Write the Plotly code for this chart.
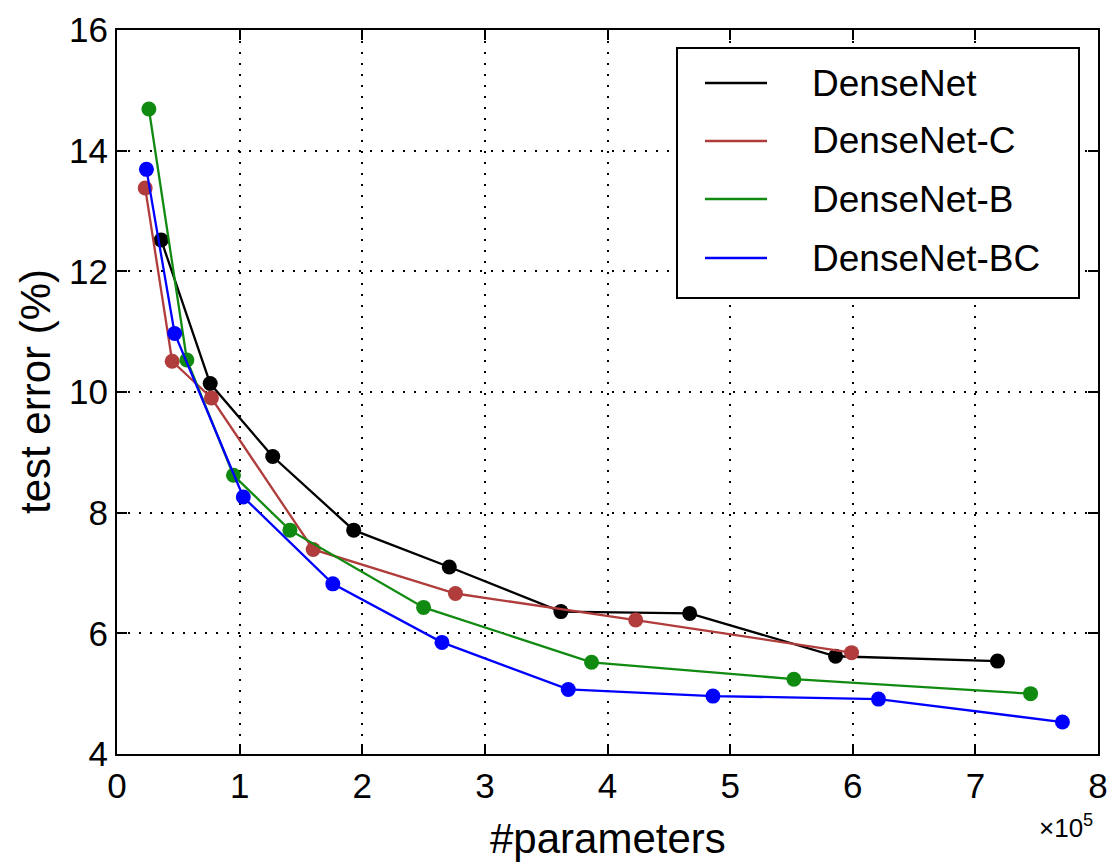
import plotly.graph_objects as go

# #parameters in units of 1e5, test error in %
names = ["DenseNet", "DenseNet-C", "DenseNet-B", "DenseNet-BC"]
colors = ["#000000", "#B03C3C", "#108A10", "#0000FF"]

dn_x = [0.36, 0.76, 1.27, 1.93, 2.71, 3.62, 4.67, 5.86, 7.18]
dn_y = [12.52, 10.14, 8.93, 7.71, 7.10, 6.36, 6.33, 5.62, 5.54]
c_x = [0.23, 0.45, 0.77, 1.60, 2.76, 4.23, 5.99]
c_y = [13.38, 10.51, 9.90, 7.39, 6.66, 6.22, 5.68]
b_x = [0.26, 0.57, 0.95, 1.41, 2.50, 3.87, 5.52, 7.45]
b_y = [14.69, 10.53, 8.62, 7.71, 6.43, 5.52, 5.24, 5.00]
bc_x = [0.24, 0.47, 1.03, 1.76, 2.65, 3.68, 4.86, 6.21, 7.71]
bc_y = [13.69, 10.97, 8.26, 6.82, 5.85, 5.07, 4.96, 4.91, 4.53]

x_ticks = [0, 1, 2, 3, 4, 5, 6, 7, 8]
y_ticks = [4, 6, 8, 10, 12, 14, 16]

series = [(dn_x, dn_y), (c_x, c_y), (b_x, b_y), (bc_x, bc_y)]

W, H = 1113, 862
ML, MR, MT, MB = 117, 15, 30, 108
PW, PH = W - ML - MR, H - MT - MB


def px(xpix):
    return (xpix - ML) / PW


def py(ypix):
    return (H - MB - ypix) / PH


fig = go.Figure()
for (xs, ys), name, col in zip(series, names, colors):
    fig.add_trace(go.Scatter(
        x=xs, y=ys, mode="lines+markers", name=name,
        line=dict(color=col, width=2.3),
        marker=dict(color=col, size=15, line=dict(width=0)), showlegend=False))

font_family = "Liberation Sans, Arial, sans-serif"

axis_common = dict(
    showline=True, linecolor="black", linewidth=2, mirror="ticks",
    ticks="inside", ticklen=10, tickwidth=2, tickcolor="black",
    showgrid=True, gridcolor="black", gridwidth=2, griddash="2px,9px",
    zeroline=False, automargin=False,
    tickfont=dict(family=font_family, size=35, color="black"),
)

fig.update_xaxes(range=[0, 8], tickvals=x_ticks, ticktext=[str(v) for v in x_ticks], **axis_common)
fig.update_yaxes(range=[4, 16], tickvals=y_ticks, ticktext=[str(v) for v in y_ticks], **axis_common)

fig.add_annotation(text="#parameters", xref="paper", yref="paper", x=0.5, y=py(838),
                   xanchor="center", yanchor="middle", showarrow=False,
                   font=dict(family=font_family, size=42, color="black"))
fig.add_annotation(text="test error (%)", xref="paper", yref="paper", x=px(35), y=0.5,
                   xanchor="center", yanchor="middle", textangle=-90, showarrow=False,
                   font=dict(family=font_family, size=42, color="black"))
fig.add_annotation(text="×10<sup>5</sup>", xref="paper", yref="paper", x=px(1066), y=py(826),
                   xanchor="center", yanchor="middle", showarrow=False,
                   font=dict(family=font_family, size=26, color="black"))

# legend drawn as a framed box with line samples
fig.add_shape(type="rect", xref="paper", yref="paper",
              x0=px(677), x1=px(1079), y0=py(298), y1=py(48),
              line=dict(color="black", width=2), fillcolor="white", layer="above")
leg_rows = [83, 141, 199, 258]
for name, col, yr in zip(names, colors, leg_rows):
    fig.add_shape(type="line", xref="paper", yref="paper",
                  x0=px(705), x1=px(767), y0=py(yr), y1=py(yr),
                  line=dict(color=col, width=2.3), layer="above")
    fig.add_annotation(text=name, xref="paper", yref="paper", x=px(810), y=py(yr),
                       xanchor="left", yanchor="middle", showarrow=False,
                       font=dict(family=font_family, size=37, color="black"))

fig.update_layout(
    width=W, height=H,
    margin=dict(l=ML, r=MR, t=MT, b=MB, autoexpand=False),
    paper_bgcolor="white", plot_bgcolor="white",
    font=dict(family=font_family, color="black"),
    showlegend=False,
)

fig.write_html("out.html",
               config={"displayModeBar": False},
               post_script="document.body.style.margin='0';document.body.style.overflow='hidden';")
